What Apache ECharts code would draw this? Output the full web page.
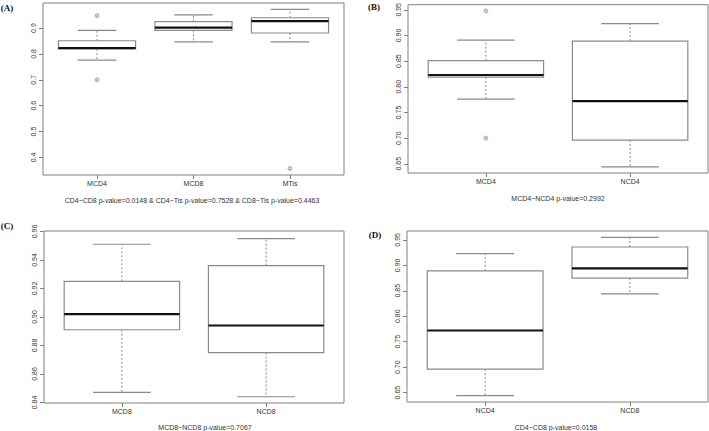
<!DOCTYPE html>
<html>
<head>
    <meta charset="utf-8">
    <title>boxplots</title>
    <script src="https://cdn.jsdelivr.net/npm/echarts@6/dist/echarts.min.js"></script>
    <style>
        html, body { margin: 0; padding: 0; background: #fff; }
        #main { width: 709px; height: 431px; }
    </style>
</head>
<body>
<div id="main"></div>
<script>
    // categories per panel
    var catsA = ['MCD4', 'MCD8', 'MTis'];
    var catsB = ['MCD4', 'NCD4'];
    var catsC = ['MCD8', 'NCD8'];
    var catsD = ['NCD4', 'NCD8'];

    // five numbers: [min, q1, median, q3, max]
    var mcd4 = [0.776, 0.819, 0.823, 0.851, 0.891];
    var mcd8 = [0.847, 0.891, 0.902, 0.925, 0.951];
    var mtis = [0.847, 0.881, 0.927, 0.940, 0.972];
    var ncd4 = [0.644, 0.696, 0.772, 0.889, 0.923];
    var ncd8 = [0.844, 0.875, 0.894, 0.936, 0.955];

    // outliers
    var outMcd4 = [0.948, 0.700];
    var outMtis = [0.357];

    // y tick labels
    var ticksA = [0.4, 0.5, 0.6, 0.7, 0.8, 0.9];
    var ticksB = [0.65, 0.70, 0.75, 0.80, 0.85, 0.90, 0.95];
    var ticksC = [0.84, 0.86, 0.88, 0.90, 0.92, 0.94, 0.96];
    var ticksD = [0.65, 0.70, 0.75, 0.80, 0.85, 0.90, 0.95];

    var captions = [
        'CD4~CD8 p-value=0.0148 & CD4~Tis p-value=0.7528 & CD8~Tis p-value=0.4463',
        'MCD4~NCD4 p-value=0.2992',
        'MCD8~NCD8 p-value=0.7067',
        'CD4~CD8 p-value=0.0158'
    ];

    var panels = [
        {cats: catsA, boxes: [mcd4, mcd8, mtis], outs: [[1, outMcd4], [3, outMtis]], ticks: ticksA, dec: 1,
            ymin: 0.332, ymax: 0.997, grid: {left: 43, top: 3, width: 301, height: 172},
            label: '(A)', lx: 7, ly: 8, cx: 192, cy: 200},
        {cats: catsB, boxes: [mcd4, ncd4], outs: [[1, outMcd4]], ticks: ticksB, dec: 2,
            ymin: 0.632, ymax: 0.960, grid: {left: 408, top: 3, width: 300, height: 170},
            label: '(B)', lx: 374, ly: 7, cx: 558, cy: 198},
        {cats: catsC, boxes: [mcd8, ncd8], outs: [], ticks: ticksC, dec: 2,
            ymin: 0.8396, ymax: 0.9603, grid: {left: 44, top: 231, width: 300, height: 172},
            label: '(C)', lx: 7, ly: 226, cx: 205, cy: 427},
        {cats: catsD, boxes: [ncd4, ncd8], outs: [], ticks: ticksD, dec: 2,
            ymin: 0.6316, ymax: 0.9674, grid: {left: 407, top: 231, width: 301, height: 171},
            label: '(D)', lx: 375, ly: 235, cx: 556, cy: 427}
    ];

    var boxColor = '#8a8a8a';
    var textColor = '#333';

    function renderBox(params, api) {
        var x = api.value(0);
        var lo = api.coord([x, api.value(1)]);
        var q1 = api.coord([x, api.value(2)]);
        var md = api.coord([x, api.value(3)]);
        var q3 = api.coord([x, api.value(4)]);
        var hi = api.coord([x, api.value(5)]);
        var half = api.size([0.4, 0])[0];
        var cap = half / 2;
        var cxp = md[0];
        var st = {stroke: boxColor, lineWidth: 1.2, fill: null};
        var dot = {stroke: boxColor, lineWidth: 1, lineDash: [2, 2], fill: null};
        return {
            type: 'group',
            children: [
                {type: 'line', shape: {x1: cxp, y1: q3[1], x2: cxp, y2: hi[1]}, style: dot},
                {type: 'line', shape: {x1: cxp, y1: q1[1], x2: cxp, y2: lo[1]}, style: dot},
                {type: 'line', shape: {x1: cxp - cap, y1: hi[1], x2: cxp + cap, y2: hi[1]}, style: st},
                {type: 'line', shape: {x1: cxp - cap, y1: lo[1], x2: cxp + cap, y2: lo[1]}, style: st},
                {type: 'rect', shape: {x: cxp - half, y: q3[1], width: half * 2, height: q1[1] - q3[1]},
                    style: {stroke: boxColor, lineWidth: 1.2, fill: '#fff'}},
                {type: 'line', shape: {x1: cxp - half, y1: md[1], x2: cxp + half, y2: md[1]},
                    style: {stroke: '#111', lineWidth: 2.2}}
            ]
        };
    }

    var grids = [], xAxes = [], yAxes = [], series = [], graphics = [];

    panels.forEach(function (p, i) {
        var n = p.cats.length;
        var ext = n * 0.04 / 2;
        var xs = [];
        for (var k = 1; k <= n; k++) xs.push(k);

        grids.push({
            left: p.grid.left, top: p.grid.top, width: p.grid.width, height: p.grid.height,
            show: true, borderColor: '#808080', borderWidth: 1, backgroundColor: 'transparent'
        });
        xAxes.push({
            gridIndex: i, type: 'value', min: 0.5 - ext, max: n + 0.5 + ext,
            axisLine: {show: false},
            splitLine: {show: false},
            axisTick: {show: true, length: 4, customValues: xs, lineStyle: {color: '#808080'}},
            axisLabel: {
                customValues: xs, margin: 5, color: textColor, fontSize: 7,
                fontFamily: 'Liberation Sans',
                formatter: (function (c) { return function (v) { return c[Math.round(v) - 1]; }; })(p.cats)
            }
        });
        yAxes.push({
            gridIndex: i, type: 'value', min: p.ymin, max: p.ymax,
            axisLine: {show: false},
            splitLine: {show: false},
            axisTick: {show: true, length: 4, customValues: p.ticks, lineStyle: {color: '#808080'}},
            axisLabel: {
                customValues: p.ticks, rotate: 90, margin: 6, color: textColor, fontSize: 7,
                fontFamily: 'Liberation Sans',
                formatter: (function (d) { return function (v) { return v.toFixed(d); }; })(p.dec)
            }
        });

        var boxData = p.boxes.map(function (b, k) {
            return [k + 1, b[0], b[1], b[2], b[3], b[4]];
        });
        series.push({
            type: 'custom', xAxisIndex: i, yAxisIndex: i,
            renderItem: renderBox,
            encode: {x: 0, y: [1, 2, 3, 4, 5]},
            data: boxData, silent: true
        });

        var outData = [];
        p.outs.forEach(function (o) {
            o[1].forEach(function (v) { outData.push([o[0], v]); });
        });
        if (outData.length) {
            series.push({
                type: 'scatter', xAxisIndex: i, yAxisIndex: i,
                symbol: 'emptyCircle', symbolSize: 3,
                itemStyle: {color: '#aaa', borderColor: '#aaa', borderWidth: 0.8},
                data: outData, silent: true
            });
        }

        graphics.push({
            type: 'text', x: p.lx, y: p.ly,
            style: {text: p.label, font: 'bold 9px "Liberation Serif"', fill: '#111',
                textAlign: 'center', textVerticalAlign: 'middle'}
        });
        graphics.push({
            type: 'text', x: p.cx, y: p.cy,
            style: {text: captions[i], font: '7px "Liberation Sans"', fill: textColor,
                textAlign: 'center', textVerticalAlign: 'middle'}
        });
    });

    var myChart = echarts.init(document.getElementById('main'), null, {renderer: 'svg'});
    myChart.setOption({
        animation: false,
        backgroundColor: '#fff',
        grid: grids,
        xAxis: xAxes,
        yAxis: yAxes,
        series: series,
        graphic: graphics
    });
</script>
</body>
</html>
